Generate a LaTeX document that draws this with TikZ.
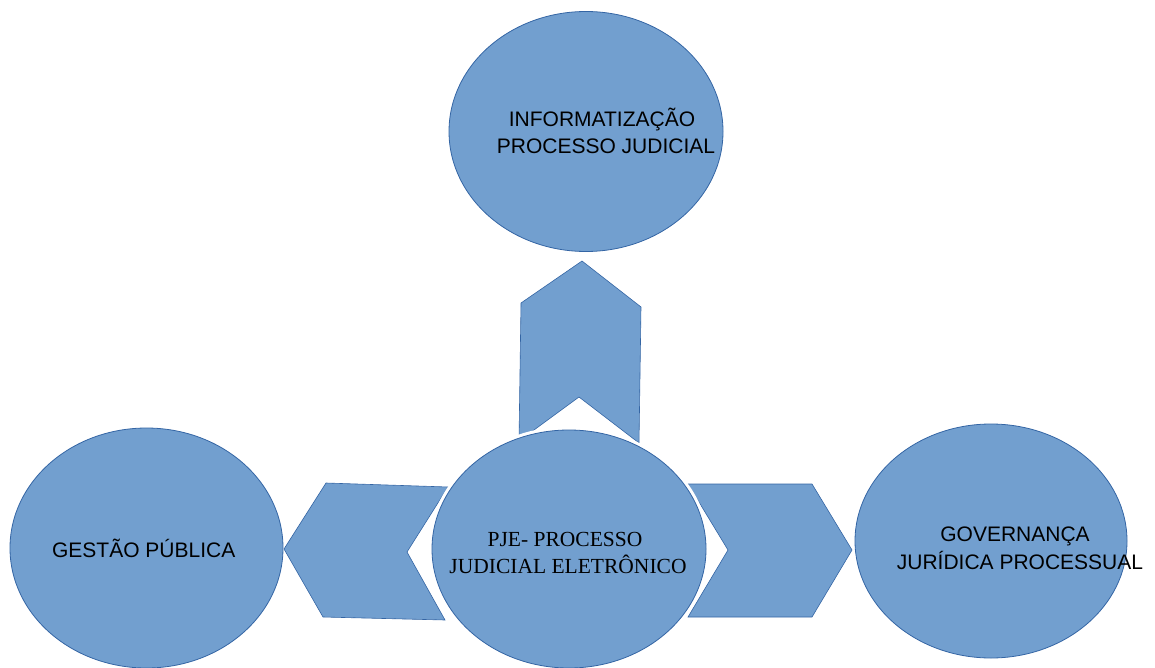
\documentclass[tikz,border=0pt]{standalone}
\usepackage{fontspec}
\setmainfont{Liberation Sans}
\newfontfamily\pjeserif{Liberation Serif}
\usetikzlibrary{shapes.geometric}
\definecolor{shapefill}{HTML}{729FCF}
\definecolor{shapeline}{HTML}{3465A4}
\begin{document}
\begin{tikzpicture}[x=1pt,y=-1pt,
  bubble/.style={ellipse, fill=shapefill, draw=shapeline, line width=0.8pt, inner sep=0pt, outer sep=0pt},
  halo/.style={ellipse, fill=white, inner sep=0pt, outer sep=0pt},
  chevron/.style={fill=shapefill, draw=shapeline, line width=0.6pt, line join=miter},
  sanslbl/.style={anchor=base, inner sep=0pt, font=\fontsize{21}{25}\selectfont},
  seriflbl/.style={anchor=base, inner sep=0pt, font=\pjeserif\fontsize{21.5}{26}\selectfont}]
\useasboundingbox (0,0) rectangle (1155,668);

% up chevron
\coordinate (u1) at (582,261);
\coordinate (u2) at (641,307);
\coordinate (u3) at (639,443);
\coordinate (u4) at (579,397);
\coordinate (u5) at (519,441);
\coordinate (u6) at (521,303);
\draw[chevron] (u1) -- (u2) -- (u3) -- (u4) -- (u5) -- (u6) -- cycle;

% left chevron
\coordinate (l1) at (284,549);
\coordinate (l2) at (326,483);
\coordinate (l3) at (448,487);
\coordinate (l4) at (407,552);
\coordinate (l5) at (445,620);
\coordinate (l6) at (323,617);
\draw[chevron] (l1) -- (l2) -- (l3) -- (l4) -- (l5) -- (l6) -- cycle;

% right chevron
\coordinate (r1) at (688,484);
\coordinate (r2) at (812,484);
\coordinate (r3) at (852,550);
\coordinate (r4) at (812,617);
\coordinate (r5) at (688,617);
\coordinate (r6) at (728,550);
\draw[chevron] (r1) -- (r2) -- (r3) -- (r4) -- (r5) -- (r6) -- cycle;

% ellipses
\node[bubble, minimum width=274pt, minimum height=240pt] (info) at (586,131.5) {};
\node[bubble, minimum width=273pt, minimum height=240pt] (gestao) at (146.5,548) {};
\node[bubble, minimum width=272pt, minimum height=234pt] (gov) at (991,541) {};
\node[halo, minimum width=281pt, minimum height=245pt] (pjehalo) at (569,549) {};
\node[bubble, minimum width=274pt, minimum height=238pt] (pje) at (569,549) {};

% labels
\node[sanslbl] (info1) at (602,127) {INFORMATIZAÇÃO};
\node[sanslbl] (info2) at (606,154) {PROCESSO JUDICIAL};
\node[sanslbl] (gestao1) at (143.7,557) {GESTÃO PÚBLICA};
\node[sanslbl] (gov1) at (1015,541) {GOVERNANÇA};
\node[sanslbl] (gov2) at (1020,569) {JURÍDICA PROCESSUAL};
\node[seriflbl] (pje1) at (565,546) {PJE- PROCESSO};
\node[seriflbl] (pje2) at (568,573) {JUDICIAL ELETRÔNICO};
\end{tikzpicture}
\end{document}
